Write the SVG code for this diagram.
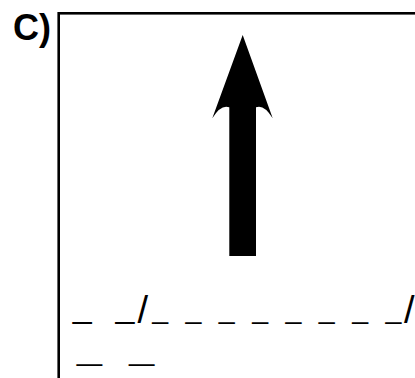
<svg xmlns="http://www.w3.org/2000/svg" width="415" height="378" viewBox="0 0 415 378">
<style>
.t{font-family:"Liberation Sans",Arial,sans-serif;fill:#000}
</style>
<rect width="415" height="378" fill="#fff"/>
<text class="t" x="13" y="40" font-size="36" font-weight="bold">C)</text>
<rect id="frame" x="58.7" y="13.3" width="400" height="400" fill="none" stroke="#000" stroke-width="2.6"/>
<g id="arrow">
<path d="M242.7 35 L272.7 118.3 Q264 104 256 107.3 L256 256 L229.3 256 L229.3 107.3 Q221 104 212.3 118.3 Z" fill="#000"/>
</g>
<g id="labels">
<text class="t"><tspan font-size="34" x="72.8 115.5" y="316.5 316.5">__</tspan><tspan font-size="38" x="137.5" y="323">/</tspan><tspan font-size="28.5" x="152.2 185.5 218.8 252.2 285.5 318.8 352.2 385.5" y="317.6 317.6 317.6 317.6 317.6 317.6 317.6 317.6">________</tspan><tspan font-size="38" x="404" y="323">/</tspan></text>
<text class="t" font-size="27" transform="translate(76.6 0) scale(1.66 1)" x="0.3 31.8" y="360.3 360.3">__</text>
</g>
</svg>
